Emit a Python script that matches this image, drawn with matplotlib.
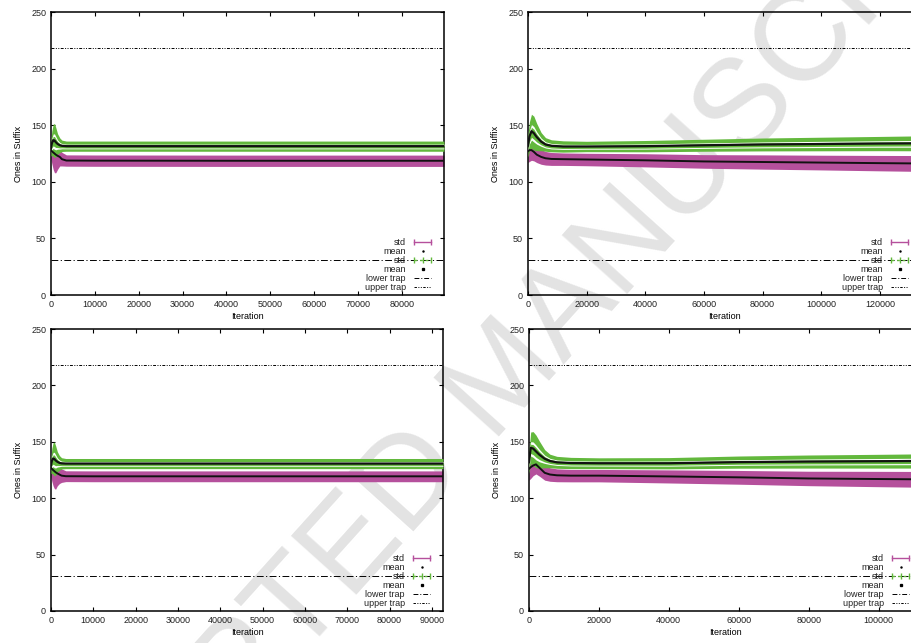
# four panels: ones in suffix over iterations, mean +- std for two runs
import numpy as np
import matplotlib
matplotlib.use('Agg')
import matplotlib.pyplot as plt
from matplotlib.lines import Line2D
from matplotlib.legend_handler import HandlerLine2D

plt.rcParams['font.family'] = ['Liberation Sans', 'DejaVu Sans']
plt.rcParams['font.size'] = 6.5
plt.rcParams['text.color'] = '#222222'

MAGENTA = '#b5509c'
GREEN = '#62b83c'

lower_trap = 31
upper_trap = 218

# top left
tl_xmax = 89600
tl_iter = [0, 200, 500, 800, 1100, 1500, 2000, 2500, 3500, 10000, 40000, 89600]
tl_g_mean = [130, 134, 136.8, 136.5, 135, 133.5, 132.3, 131.8, 131.5, 131.5, 131.5, 131.5]
tl_g_std = [7, 11, 14, 15, 13, 9, 6.5, 5, 4.5, 4.5, 4.5, 4.5]
tl_m_mean = [128, 127, 126, 125, 124, 123, 122, 120, 118.8, 118.7, 118.6, 118.6]
tl_m_std = [8, 11, 15, 17, 16, 12, 8, 6, 5, 5, 5, 5]

# top right
tr_xmax = 134000
tr_iter = [0, 500, 1200, 2000, 3000, 4500, 6000, 8000, 12000, 20000, 40000,
           60000, 80000, 100000, 120000, 134000]
tr_g_mean = [132, 140, 144.7, 143, 139.5, 135.5, 133, 131.8, 131.2, 131.2, 131.5,
             132.3, 133, 133.4, 133.8, 134]
tr_g_std = [10, 13, 15, 15, 12, 8, 6, 5.3, 5, 4.6, 5, 5.3, 5.7, 6, 6.3, 6.6]
tr_m_mean = [127, 128, 128, 126.5, 124, 122, 120.8, 120.2, 120, 119.7, 119,
             118, 117.5, 117, 116.5, 116.2]
tr_m_std = [10, 10, 9, 8, 7, 6.5, 6, 5.7, 5.5, 5.5, 5.8, 6, 6.3, 6.5, 6.8, 7]

# bottom left
bl_xmax = 92600
bl_iter = [0, 200, 500, 800, 1100, 1500, 2000, 2500, 3500, 10000, 40000, 92600]
bl_g_mean = [129, 133, 135.2, 134.8, 133.5, 132.3, 131.3, 130.9, 130.7, 130.7, 130.7, 130.7]
bl_g_std = [7, 11, 14, 15, 13, 9, 6.5, 5, 4.5, 4.5, 4.5, 4.5]
bl_m_mean = [127, 126, 125, 124, 123, 122, 121, 120, 119.5, 119.4, 119.4, 119.4]
bl_m_std = [8, 11, 14, 15.5, 15, 11, 8, 6, 4.8, 4.8, 4.8, 4.8]

# bottom right
br_xmax = 112400
br_iter = [0, 500, 1200, 2000, 3000, 4500, 6000, 8000, 12000, 20000, 40000,
           60000, 80000, 100000, 112400]
br_g_mean = [132, 144.7, 144, 141.5, 138.5, 135, 133, 131.8, 131.2, 131, 131,
             132, 132.5, 132.8, 133]
br_g_std = [10, 14, 15, 14.5, 12, 8, 6, 5.3, 5, 4.8, 5, 5.4, 5.8, 6.1, 6.3]
br_m_mean = [126, 127.5, 129, 130, 127, 122.5, 121, 120.3, 120, 120, 119.3,
             118.5, 117.5, 117, 116.7]
br_m_std = [10, 10, 9, 8.5, 7.5, 6.5, 6, 5.7, 5.5, 5.5, 5.8, 6.1, 6.4, 6.8, 7]


def draw_panel(ax, it, gm, gs, mm, ms, xmax, xstep):
    it = np.array(it, float)
    gm, gs = np.array(gm, float), np.array(gs, float)
    mm, ms = np.array(mm, float), np.array(ms, float)
    ax.set_facecolor('none')

    ax.fill_between(it, mm - ms, mm + ms, color=MAGENTA, lw=0, zorder=2)
    ax.fill_between(it, gm - gs, gm + gs, color=GREEN, lw=0, zorder=3)
    # white gaps of the dashed green error bars
    for c in (0.31, -0.44):
        ax.fill_between(it, gm + (c - 0.08) * gs, gm + (c + 0.08) * gs,
                        color='white', lw=0, zorder=3.5)
    ax.plot(it, mm, color='#111111', lw=1.4, zorder=4)
    ax.plot(it, gm, color='#111111', lw=1.6, zorder=4)

    ax.axhline(lower_trap, color='black', lw=0.7, ls=(0, (7, 2.5, 1.2, 2.5)), zorder=2.5)
    ax.axhline(upper_trap, color='black', lw=0.7, ls=(0, (3, 1.5, 1, 1.5, 1, 1.5)), zorder=2.5)

    ax.set_xlim(0, xmax)
    ax.set_ylim(0, 250)
    ax.set_xticks(np.arange(0, xmax, xstep))
    ax.set_yticks(np.arange(0, 251, 50))
    ax.tick_params(direction='in', top=True, right=True, length=3, width=0.8,
                   labelsize=6.5, labelcolor='#222222', pad=3.5)
    for s in ax.spines.values():
        s.set_linewidth(1.1)
    ax.set_xlabel('Iteration', labelpad=2.5)
    ax.set_ylabel('Ones in Suffix', labelpad=6)

    h_std1 = Line2D([], [], color=MAGENTA, lw=1.0, marker='|', ms=4, mew=1.0)
    h_mean1 = Line2D([], [], color='black', ls='none', marker='.', ms=1.5)
    h_std2 = Line2D([], [], color=GREEN, lw=1.0, ls=(0, (2, 2)), marker='|', ms=4, mew=1.0)
    h_mean2 = Line2D([], [], color='black', ls='none', marker='s', ms=1.4)
    h_low = Line2D([], [], color='black', lw=0.7, ls=(0, (5, 2, 1, 2)))
    h_up = Line2D([], [], color='black', lw=0.7, ls=(0, (2.5, 1.5, 1, 1.5, 1, 1.5)))
    ax.legend([h_std1, h_mean1, h_std2, h_mean2, h_low, h_up],
              ['std', 'mean', 'std', 'mean', 'lower trap', 'upper trap'],
              loc='lower right', bbox_to_anchor=(0.975, 0.01), frameon=False,
              markerfirst=False, numpoints=2, fontsize=6.5, handlelength=2.5,
              handletextpad=0.65, labelspacing=0.0, borderpad=0, borderaxespad=0,
              handler_map={h_mean1: HandlerLine2D(numpoints=1),
                           h_mean2: HandlerLine2D(numpoints=1),
                           h_std2: HandlerLine2D(numpoints=3)})


fig = plt.figure(figsize=(9.12, 6.43), dpi=100)

# watermark behind the panels
fig.text(0.555, 0.41, 'ACCEPTED MANUSCRIPT', rotation=48, ha='center', va='center',
         fontsize=92, color='#e3e3e3', zorder=-1, rotation_mode='anchor')

ax1 = fig.add_axes([0.0559, 0.5412, 0.4309, 0.4401])
ax2 = fig.add_axes([0.5789, 0.5412, 0.4309, 0.4401])
ax3 = fig.add_axes([0.0559, 0.0498, 0.4298, 0.4385])
ax4 = fig.add_axes([0.5800, 0.0498, 0.4309, 0.4385])

draw_panel(ax1, tl_iter, tl_g_mean, tl_g_std, tl_m_mean, tl_m_std, tl_xmax, 10000)
draw_panel(ax2, tr_iter, tr_g_mean, tr_g_std, tr_m_mean, tr_m_std, tr_xmax, 20000)
draw_panel(ax3, bl_iter, bl_g_mean, bl_g_std, bl_m_mean, bl_m_std, bl_xmax, 10000)
draw_panel(ax4, br_iter, br_g_mean, br_g_std, br_m_mean, br_m_std, br_xmax, 20000)

fig.savefig('out.png', dpi=100)
